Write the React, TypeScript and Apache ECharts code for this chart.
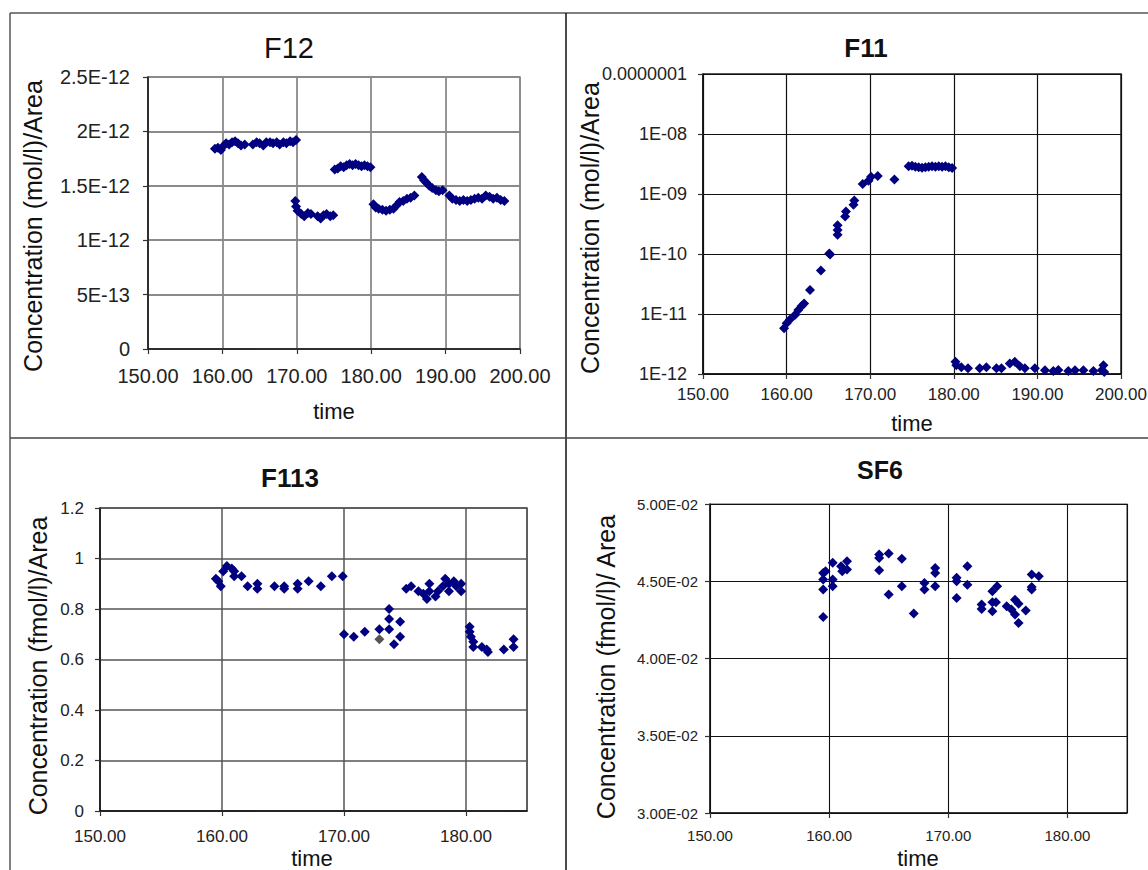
import React, { useEffect, useRef } from "react";
import * as echarts from "echarts";

// ---------- F12 ----------
const f12Time = [
  159.0, 159.4, 159.8, 160.2, 160.5, 160.9, 161.3, 161.7, 162.1, 162.5, 163.0,
  164.1, 164.6, 165.0, 165.5, 165.9, 166.4, 166.8, 167.3, 167.7, 168.2, 168.6, 169.1, 169.5, 169.9,
  169.8, 169.9, 170.1, 170.6, 171.0, 171.5, 171.9, 172.8, 173.2, 173.6, 174.0, 174.5, 174.9,
  175.1, 175.5, 175.9, 176.3, 176.7, 177.1, 177.5, 177.9, 178.3, 178.7, 179.1, 179.5, 179.9,
  180.3, 180.6, 181.0, 181.5, 182.0, 182.5, 183.0, 183.4, 183.8, 184.3, 184.8, 185.3, 185.8,
  186.8, 187.1, 187.4, 187.8, 188.2, 188.7, 189.1, 189.6,
  190.5, 190.9, 191.4, 191.9, 192.4, 192.9, 193.4, 193.9, 194.4, 194.9, 195.4, 195.9, 196.4, 196.9, 197.4, 197.9,
];
const f12Conc = [
  1.84e-12, 1.85e-12, 1.83e-12, 1.87e-12, 1.89e-12, 1.88e-12, 1.9e-12, 1.91e-12, 1.89e-12, 1.87e-12, 1.88e-12,
  1.88e-12, 1.9e-12, 1.89e-12, 1.87e-12, 1.9e-12, 1.9e-12, 1.89e-12, 1.9e-12, 1.88e-12, 1.9e-12, 1.89e-12, 1.91e-12, 1.9e-12, 1.92e-12,
  1.36e-12, 1.31e-12, 1.27e-12, 1.24e-12, 1.22e-12, 1.25e-12, 1.24e-12, 1.22e-12, 1.2e-12, 1.23e-12, 1.24e-12, 1.22e-12, 1.23e-12,
  1.65e-12, 1.66e-12, 1.68e-12, 1.67e-12, 1.69e-12, 1.7e-12, 1.69e-12, 1.7e-12, 1.69e-12, 1.68e-12, 1.69e-12, 1.68e-12, 1.67e-12,
  1.33e-12, 1.3e-12, 1.29e-12, 1.28e-12, 1.27e-12, 1.28e-12, 1.29e-12, 1.32e-12, 1.35e-12, 1.36e-12, 1.38e-12, 1.39e-12, 1.41e-12,
  1.58e-12, 1.55e-12, 1.53e-12, 1.5e-12, 1.48e-12, 1.46e-12, 1.45e-12, 1.46e-12,
  1.41e-12, 1.38e-12, 1.37e-12, 1.36e-12, 1.37e-12, 1.36e-12, 1.37e-12, 1.38e-12, 1.39e-12, 1.38e-12, 1.41e-12, 1.4e-12, 1.38e-12, 1.39e-12, 1.37e-12, 1.36e-12,
];
const f12XTicks = [150, 200, 10];
const f12YTicks = [0, 2.5e-12, 0.5e-12];

// ---------- F11 ----------
const f11Time = [
  159.7, 160.0, 160.4, 161.0, 161.4, 161.8, 162.1, 162.8, 164.1, 165.1, 165.2,
  166.1, 166.1, 166.1, 167.0, 167.1, 168.0, 168.1, 169.1, 169.8, 170.1, 170.9, 172.9,
  174.6, 175.0, 175.4, 175.8, 176.2, 176.6, 177.0, 177.4, 177.8, 178.2, 178.6, 179.0, 179.4, 179.8,
  180.2, 180.3, 180.9, 181.7, 183.1, 183.9, 185.1, 185.7, 186.7, 187.3, 187.9, 188.5, 189.7,
  190.9, 191.9, 192.5, 193.7, 194.5, 195.5, 196.7, 197.7, 197.9, 198.0,
];
const f11Conc = [
  5.8e-12, 7e-12, 8.1e-12, 9.6e-12, 1.17e-11, 1.36e-11, 1.5e-11, 2.5e-11, 5.3e-11, 1.02e-10, 9.8e-11,
  2.1e-10, 2.5e-10, 3e-10, 4.2e-10, 5.1e-10, 6.6e-10, 7.8e-10, 1.47e-9, 1.66e-9, 1.94e-9, 2.0e-9, 1.75e-9,
  2.9e-9, 2.95e-9, 2.85e-9, 2.8e-9, 2.75e-9, 2.8e-9, 2.85e-9, 2.9e-9, 2.85e-9, 2.9e-9, 2.85e-9, 2.9e-9, 2.8e-9, 2.7e-9,
  1.6e-12, 1.4e-12, 1.3e-12, 1.25e-12, 1.25e-12, 1.3e-12, 1.25e-12, 1.25e-12, 1.5e-12, 1.6e-12, 1.35e-12, 1.25e-12, 1.25e-12,
  1.15e-12, 1.12e-12, 1.17e-12, 1.12e-12, 1.15e-12, 1.15e-12, 1.12e-12, 1.15e-12, 1.4e-12, 1.08e-12,
];
const f11XTicks = [150, 200, 10];
const f11YRange = [1e-12, 1e-7];

// ---------- F113 ----------
const f113Time = [
  159.5, 159.7, 159.9, 160.1, 160.4, 160.8, 161.0, 161.0, 161.6, 162.1, 162.9, 162.9,
  164.3, 165.1, 165.1, 166.2, 166.2, 167.1, 168.1, 169.0, 169.9,
  170.0, 170.8, 171.7, 172.9, 173.7, 173.7, 173.7, 174.1, 174.6, 174.6,
  175.1, 175.5, 176.1, 176.5, 176.8, 177.0, 177.0, 177.5, 177.7, 178.1, 178.3, 178.6, 178.6, 179.0, 179.2, 179.6, 179.6,
  180.3, 180.3, 180.4, 180.6, 180.6, 181.3, 181.7, 181.8, 183.1, 183.9, 183.9,
];
const f113Conc = [
  0.92, 0.91, 0.89, 0.95, 0.97, 0.96, 0.95, 0.93, 0.93, 0.89, 0.9, 0.88,
  0.89, 0.89, 0.88, 0.9, 0.88, 0.91, 0.89, 0.93, 0.93,
  0.7, 0.69, 0.71, 0.72, 0.8, 0.76, 0.72, 0.66, 0.75, 0.69,
  0.88, 0.89, 0.87, 0.86, 0.84, 0.9, 0.87, 0.85, 0.87, 0.89, 0.92, 0.87, 0.9, 0.91, 0.89, 0.9, 0.87,
  0.73, 0.71, 0.69, 0.67, 0.65, 0.65, 0.64, 0.63, 0.64, 0.68, 0.65,
];
const f113GreyTime = [172.9];
const f113GreyConc = [0.68];
const f113XTicks = [150, 185, 10];
const f113YTicks = [0, 1.2, 0.2];

// ---------- SF6 ----------
const sf6Time = [
  159.5, 159.5, 159.5, 159.5, 159.7, 160.3, 160.3, 160.3, 161.0, 161.1, 161.5, 161.5,
  164.2, 164.2, 164.2, 165.0, 165.0, 166.1, 166.1, 167.1, 168.0, 168.0, 168.9, 168.9, 168.9,
  170.7, 170.7, 170.7, 171.6, 171.6, 172.8, 172.8, 173.7, 173.7, 173.7, 174.1, 174.0,
  174.9, 175.3, 175.6, 175.6, 175.9, 175.9, 176.5, 177.0, 177.0, 177.0, 177.6,
];
const sf6Conc = [
  0.04554, 0.04511, 0.04446, 0.04269, 0.04565, 0.04619, 0.04511, 0.04468, 0.04597, 0.04565, 0.04629, 0.04576,
  0.04673, 0.04651, 0.04571, 0.04679, 0.04414, 0.04645, 0.04468, 0.04291, 0.04489, 0.04446, 0.04586, 0.04554, 0.04468,
  0.04522, 0.045, 0.04392, 0.04597, 0.04478, 0.04349, 0.04321, 0.04435, 0.04364, 0.04306, 0.04468, 0.04364,
  0.04338, 0.04317, 0.04381, 0.04284, 0.0423, 0.04355, 0.0431, 0.04543, 0.04463, 0.04446, 0.04532,
];
const sf6XTicks = [150, 185, 10];
const sf6YTicks = [0.03, 0.05, 0.005];

const NAVY = "#000080";
const FONT = "'Liberation Sans', Arial, Helvetica, sans-serif";
const TXT = "#222";

const zip = (a: number[], b: number[]) => a.map((t, i) => [t, b[i]]);
const xFmt = (v: number) => v.toFixed(2);
const f12Fmt = (v: number) => {
  if (Math.abs(v) < 1e-20) return "0";
  return Number(v.toPrecision(6)).toExponential().replace("e", "E");
};
const pad2 = (n: number) => String(Math.abs(n)).padStart(2, "0");
const sf6Fmt = (v: number) => {
  const [m, e] = Number(v.toPrecision(6)).toExponential(2).split("e");
  const n = parseInt(e, 10);
  return m + "E" + (n < 0 ? "-" : "+") + pad2(n);
};
const f11Fmt = (v: number) => {
  const e = Math.round(Math.log10(v));
  if (e === -7) return "0.0000001";
  return "1E" + (e < 0 ? "-" : "+") + pad2(e);
};

function axis(
  gridIndex: number,
  opts: {
    type?: string;
    min: number;
    max: number;
    interval?: number;
    fmt: (v: number) => string;
    fontSize: number;
    margin: number;
    split: string;
    splitW: number;
    showMax?: boolean;
  }
) {
  const o: any = {
    gridIndex,
    type: opts.type || "value",
    min: opts.min,
    max: opts.max,
    axisLine: { show: true, onZero: false, lineStyle: { color: "#111", width: 1.5 } },
    axisTick: { show: true, inside: false, length: 5, lineStyle: { color: "#333", width: 1.2 } },
    splitLine: { show: true, lineStyle: { color: opts.split, width: opts.splitW } },
    axisLabel: {
      formatter: opts.fmt,
      fontSize: opts.fontSize,
      fontFamily: FONT,
      color: TXT,
      margin: opts.margin,
      showMaxLabel: opts.showMax !== false,
      showMinLabel: true,
      hideOverlap: false,
    },
  };
  if (opts.interval !== undefined) o.interval = opts.interval;
  if (opts.type === "log") {
    o.logBase = 10;
    o.splitNumber = 5;
  }
  return o;
}

function scatter(xi: number, data: number[][], color = NAVY) {
  return {
    type: "scatter",
    xAxisIndex: xi,
    yAxisIndex: xi,
    data,
    symbol: "diamond",
    symbolSize: 10,
    itemStyle: { color, opacity: 1 },
    silent: true,
  };
}

function txt(x: number, y: number, text: string, size: number, bold = false, rotate = false) {
  return {
    type: "text",
    x,
    y,
    rotation: rotate ? Math.PI / 2 : 0,
    style: {
      text,
      fontSize: size,
      fontFamily: FONT,
      fontWeight: bold ? "bold" : "normal",
      fill: "#111",
      align: "center",
      verticalAlign: "middle",
    },
    silent: true,
  };
}

function ln(x1: number, y1: number, x2: number, y2: number, color = "#222", w = 1.5) {
  return { type: "line", shape: { x1, y1, x2, y2 }, style: { stroke: color, lineWidth: w }, silent: true };
}

export default function App() {
  const ref = useRef<HTMLDivElement>(null);
  useEffect(() => {
    if (!ref.current) return;
    const chart = echarts.init(ref.current, undefined, { renderer: "svg" });
    chart.setOption({
      animation: false,
      backgroundColor: "#fff",
      grid: [
        { left: 148, top: 77, width: 372, height: 272, show: true, borderColor: "#8a8a8a", borderWidth: 1.5, outerBoundsMode: "none" },
        { left: 703, top: 74, width: 418, height: 300, show: true, borderColor: "#222", borderWidth: 1.5, outerBoundsMode: "none" },
        { left: 100, top: 508, width: 427, height: 303, show: true, borderColor: "#555", borderWidth: 1.5, outerBoundsMode: "none" },
        { left: 710, top: 504, width: 417, height: 309, show: true, borderColor: "#555", borderWidth: 1.2, outerBoundsMode: "none" },
      ],
      xAxis: [
        axis(0, { min: f12XTicks[0], max: f12XTicks[1], interval: f12XTicks[2], fmt: xFmt, fontSize: 20, margin: 17, split: "#8a8a8a", splitW: 1.8 }),
        axis(1, { min: f11XTicks[0], max: f11XTicks[1], interval: f11XTicks[2], fmt: xFmt, fontSize: 17, margin: 12, split: "#111", splitW: 1.2 }),
        axis(2, { min: f113XTicks[0], max: f113XTicks[1], interval: f113XTicks[2], fmt: xFmt, fontSize: 17, margin: 17, split: "#555", splitW: 1.5, showMax: false }),
        axis(3, { min: sf6XTicks[0], max: sf6XTicks[1], interval: sf6XTicks[2], fmt: xFmt, fontSize: 15, margin: 15, split: "#111", splitW: 1.1, showMax: false }),
      ],
      yAxis: [
        axis(0, { min: f12YTicks[0], max: f12YTicks[1], interval: f12YTicks[2], fmt: f12Fmt, fontSize: 20, margin: 18, split: "#8a8a8a", splitW: 1.8 }),
        axis(1, { type: "log", min: f11YRange[0], max: f11YRange[1], fmt: f11Fmt, fontSize: 18, margin: 16, split: "#111", splitW: 1.2 }),
        axis(2, { min: f113YTicks[0], max: f113YTicks[1], interval: f113YTicks[2], fmt: (v: number) => String(Number(v.toFixed(2))), fontSize: 17, margin: 16, split: "#555", splitW: 1.5 }),
        axis(3, { min: sf6YTicks[0], max: sf6YTicks[1], interval: sf6YTicks[2], fmt: sf6Fmt, fontSize: 15, margin: 12, split: "#111", splitW: 1.1 }),
      ],
      series: [
        scatter(0, zip(f12Time, f12Conc)),
        scatter(1, zip(f11Time, f11Conc)),
        scatter(2, zip(f113Time, f113Conc)),
        scatter(2, zip(f113GreyTime, f113GreyConc), "#555"),
        scatter(3, zip(sf6Time, sf6Conc)),
      ],
      graphic: [
        ln(10, 13, 1148, 13, "#555"),
        ln(10, 13, 10, 870, "#555"),
        ln(566, 13, 566, 870, "#111"),
        ln(10, 438, 1148, 438, "#444"),
        txt(289, 48, "F12", 29),
        txt(866, 48, "F11", 26, true),
        txt(290, 478, "F113", 26, true),
        txt(880, 470, "SF6", 25, true),
        txt(334, 411, "time", 22),
        txt(912, 423, "time", 22),
        txt(312, 858, "time", 22),
        txt(918, 858, "time", 22),
        txt(33, 226, "Concentration (mol/l)/Area", 25, false, true),
        txt(590, 228, "Concentration (mol/l)/Area", 25, false, true),
        txt(38, 666, "Concentration (fmol/l)/Area", 25, false, true),
        txt(606, 667, "Concentration (fmol/l)/ Area", 25, false, true),
      ],
    });
    return () => chart.dispose();
  }, []);
  return (
    <div
      ref={ref}
      style={{ position: "fixed", left: 0, top: 0, width: 1148, height: 870, background: "#fff" }}
    />
  );
}
